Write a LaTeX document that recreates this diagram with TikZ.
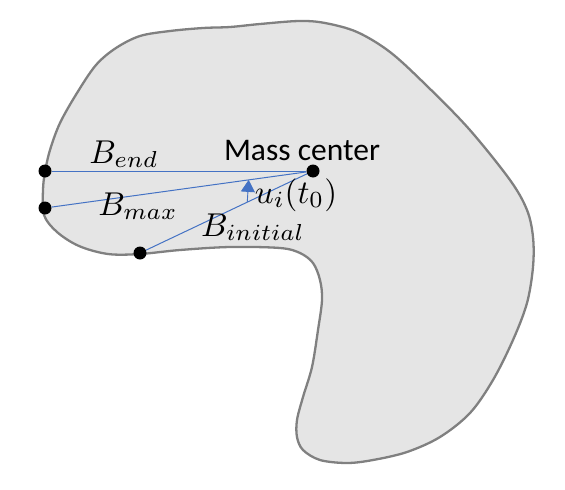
\documentclass[tikz,border=0pt]{standalone}
\usepackage[no-math]{fontspec}
\setmainfont{Carlito}
\usepackage{amsmath}
\usepackage{xcolor}
\usetikzlibrary{arrows.meta,calc}
\definecolor{rayblue}{RGB}{68,114,196}

\begin{document}
\begin{tikzpicture}[
  x=1pt,y=-1pt,
  dot/.style={circle,fill=black,inner sep=0pt,minimum size=13pt},
  lbl/.style={inner sep=0pt,anchor=base,scale=3.3},
  ray/.style={draw=rayblue,line width=1pt},
  arr/.style={-{Triangle[length=12pt,width=14pt]},draw=rayblue,fill=rayblue,line width=0.9pt}
]
\useasboundingbox (0,0) rectangle (565,490);
% body outline
\filldraw[fill=black!10,draw=black!50,line width=2.3pt] plot[smooth cycle,tension=0.55] coordinates {
  (43,190) (45,172) (50,150) (60,123) (77,93) (96,65) (116,48) (140,36)
  (170,31) (203,28) (230,27) (260,24) (299,21) (325,23) (357,32) (390,52)
  (426,85) (469,129) (510,180) (527,210) (533,237) (533,267) (527,303)
  (513,340) (493,380) (470,413) (440,437) (407,452) (373,460) (347,463)
  (320,460) (303,450) (297,437) (297,420) (303,397) (312,367) (318,330)
  (322,300) (320,280) (313,263) (300,253) (280,248) (230,247) (180,250)
  (140,254) (108,254) (79,246) (57,232) (44,215)};
\node[dot] (mc) at (313,171) {};
\node[dot] (bend) at (45,171) {};
\node[dot] (bmax) at (45,208) {};
\node[dot] (binit) at (140,253) {};
\draw[ray] (mc) -- (bend);
\draw[ray] (mc) -- (bmax);
\draw[ray] (mc) -- (binit);
\draw[arr] ($(binit)!0.62!(mc)$) -- ($(bmax)!0.76!(mc)$);
\node[inner sep=0pt,anchor=base,font=\fontsize{31.5}{38}\selectfont] (mctext) at (302,160) {Mass center};
\node[lbl] (bendtext) at (124,163) {$B_{end}$};
\node[lbl] (bmaxtext) at (138,215) {$B_{max}$};
\node[lbl] (binittext) at (253,236) {$B_{initial}$};
\node[lbl] (utext) at (296,203) {$u_i(t_0)$};
\end{tikzpicture}
\end{document}
